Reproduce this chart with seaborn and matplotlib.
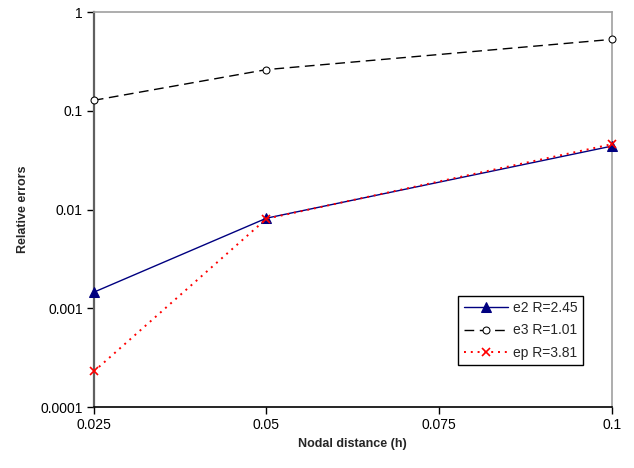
import matplotlib
matplotlib.use("Agg")
import matplotlib.pyplot as plt
import matplotlib.ticker as mticker
import seaborn as sns
import pandas as pd

h = [0.025, 0.05, 0.1]
e2 = [0.00146, 0.0082, 0.044]
e3 = [0.128, 0.262, 0.53]
ep = [0.00023, 0.0081, 0.046]
labels = ["e2 R=2.45", "e3 R=1.01", "ep R=3.81"]
xticks = [0.025, 0.05, 0.075, 0.1]
yticks = [0.0001, 0.001, 0.01, 0.1, 1]

sns.set_theme(style="white")
plt.rcParams['font.family'] = ['Liberation Sans', 'DejaVu Sans']

fig = plt.figure(figsize=(6.34, 4.68), dpi=100)
ax = fig.add_axes([0.148, 0.130, 0.817, 0.844])

df = pd.DataFrame({"h": h, "e2": e2, "e3": e3, "ep": ep})

sns.lineplot(data=df, x="h", y="e2", ax=ax, color="#000080", lw=1.0,
             marker="^", markersize=7, markeredgecolor="#000080", label=labels[0],
             clip_on=False, zorder=3)
sns.lineplot(data=df, x="h", y="e3", ax=ax, color="black", lw=1.0,
             linestyle=(0, (7, 4)), marker="o", markersize=5,
             markerfacecolor="white", markeredgecolor="black", label=labels[1],
             clip_on=False, zorder=3)
sns.lineplot(data=df, x="h", y="ep", ax=ax, color="red", lw=1.4,
             linestyle=(0, (1, 2.5)), marker="x", markersize=6,
             markeredgecolor="red", markeredgewidth=1.2, label=labels[2],
             clip_on=False, zorder=4)

ax.set_yscale("log")
ax.set_xlim(0.025, 0.1)
ax.set_ylim(0.0001, 1)
ax.set_xticks(xticks)
ax.set_xticklabels([f"{t:g}" for t in xticks])
ax.set_yticks(yticks)
ax.yaxis.set_major_formatter(mticker.FuncFormatter(lambda v, p: f"{v:g}"))
ax.yaxis.set_minor_locator(mticker.NullLocator())
ax.tick_params(axis="both", labelsize=10, direction="out", length=5, width=1,
               bottom=True, left=True, colors="black", pad=3)

for s in ["top", "right"]:
    ax.spines[s].set_color("#a0a0a0")
    ax.spines[s].set_linewidth(1.2)
ax.spines["left"].set_color("#606060")
ax.spines["left"].set_linewidth(1.6)
ax.spines["bottom"].set_color("black")
ax.spines["bottom"].set_linewidth(1.2)

ax.set_xlabel("Nodal distance (h)", fontsize=9, fontweight="bold", labelpad=4)
ax.set_ylabel("Relative errors", fontsize=9, fontweight="bold", labelpad=8)

leg = ax.legend(loc="lower right", bbox_to_anchor=(0.944, 0.106), fontsize=10,
                frameon=True, fancybox=False, edgecolor="black", framealpha=1,
                borderpad=0.4, labelspacing=0.6, handlelength=3.2, handletextpad=0.3,
                borderaxespad=0)
leg.get_frame().set_linewidth(1.0)

fig.savefig("out.png", dpi=100)
